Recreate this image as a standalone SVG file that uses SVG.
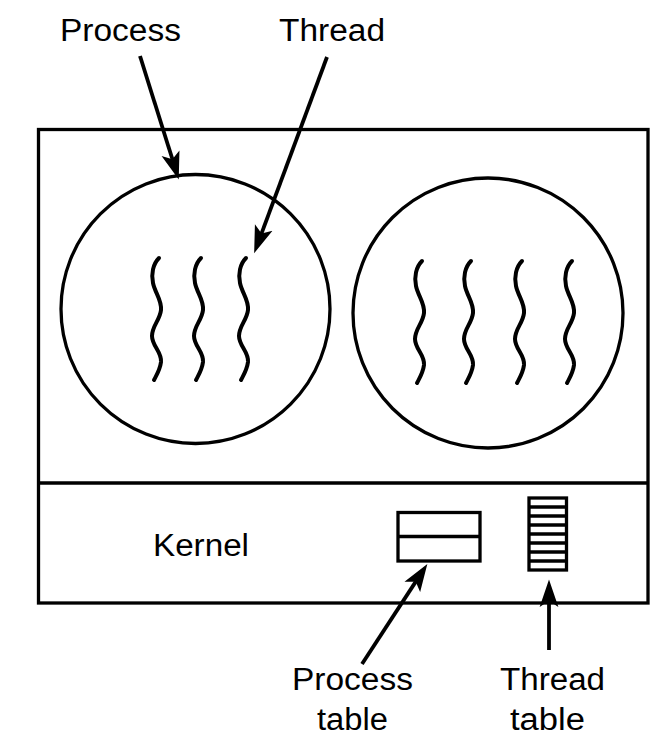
<svg xmlns="http://www.w3.org/2000/svg" xmlns:xlink="http://www.w3.org/1999/xlink" width="672" height="746" viewBox="0 0 672 746">
<style>
.s{fill:none;stroke:#000;stroke-width:3.3}
.th{fill:none;stroke:#000;stroke-width:4;stroke-linecap:round}
.ar{fill:none;stroke:#000;stroke-width:3.8}
.t{font-family:"Liberation Sans",Arial,sans-serif;font-size:31px;fill:#000}
</style>
<defs>
<marker id="ah" markerUnits="userSpaceOnUse" markerWidth="30" markerHeight="20" viewBox="0 -8 24 16" refX="12" refY="0" orient="auto">
<path d="M0,-7.5 L22,0 L0,7.5 L5,0 Z" fill="#000"/>
</marker>
<path id="wave" d="M3,258 C-3,264 -5,274 -3,283 C-1,293 6,300 5,310 C4,320 -4,326 -4,336 C-4,346 6,352 5,362 C4,370 0,376 -2,380"/>
</defs>
<rect width="672" height="746" fill="#fff"/>
<g id="machine">
<rect class="s" x="38.5" y="129.5" width="609.5" height="473.5"/>
<line class="s" x1="38.5" y1="483" x2="648" y2="483"/>
</g>
<g id="process1">
<circle class="s" cx="195.5" cy="309" r="134.5"/>
<use class="th" xlink:href="#wave" x="156" y="0"/>
<use class="th" xlink:href="#wave" x="198" y="0"/>
<use class="th" xlink:href="#wave" x="243" y="0"/>
</g>
<g id="process2">
<circle class="s" cx="488" cy="313" r="135"/>
<use class="th" xlink:href="#wave" x="419" y="3"/>
<use class="th" xlink:href="#wave" x="468" y="3"/>
<use class="th" xlink:href="#wave" x="519" y="3"/>
<use class="th" xlink:href="#wave" x="569" y="3"/>
</g>
<g id="kernel">
<text class="t" x="153" y="556" textLength="96" lengthAdjust="spacingAndGlyphs" font-size="33">Kernel</text>
</g>
<g id="processTable">
<rect class="s" x="398" y="512.5" width="82" height="48.5"/>
<line class="s" x1="398" y1="536.5" x2="480" y2="536.5"/>
</g>
<g id="threadTable">
<rect class="s" x="529" y="498" width="37.5" height="72"/>
<g stroke="#000" stroke-width="3.5">
<line x1="529" y1="507" x2="566.5" y2="507"/>
<line x1="529" y1="516" x2="566.5" y2="516"/>
<line x1="529" y1="525" x2="566.5" y2="525"/>
<line x1="529" y1="534" x2="566.5" y2="534"/>
<line x1="529" y1="543" x2="566.5" y2="543"/>
<line x1="529" y1="552" x2="566.5" y2="552"/>
<line x1="529" y1="561" x2="566.5" y2="561"/>
</g>
</g>
<g id="labels">
<text class="t" x="60" y="41" textLength="121" lengthAdjust="spacingAndGlyphs">Process</text>
<text class="t" x="279" y="41" textLength="106" lengthAdjust="spacingAndGlyphs">Thread</text>
<text class="t" x="292" y="690" textLength="121" lengthAdjust="spacingAndGlyphs">Process</text>
<text class="t" x="317" y="730" textLength="71" lengthAdjust="spacingAndGlyphs">table</text>
<text class="t" x="500" y="690" textLength="105" lengthAdjust="spacingAndGlyphs">Thread</text>
<text class="t" x="510" y="730" textLength="75" lengthAdjust="spacingAndGlyphs">table</text>
</g>
<g id="connectors">
<line class="ar" x1="140" y1="56" x2="175" y2="167.5" marker-end="url(#ah)"/>
<line class="ar" x1="327" y1="57" x2="258.5" y2="241.6" marker-end="url(#ah)"/>
<line class="ar" x1="362" y1="664" x2="420.5" y2="574.4" marker-end="url(#ah)"/>
<line class="ar" x1="549" y1="650" x2="549" y2="592" marker-end="url(#ah)"/>
</g>
</svg>
